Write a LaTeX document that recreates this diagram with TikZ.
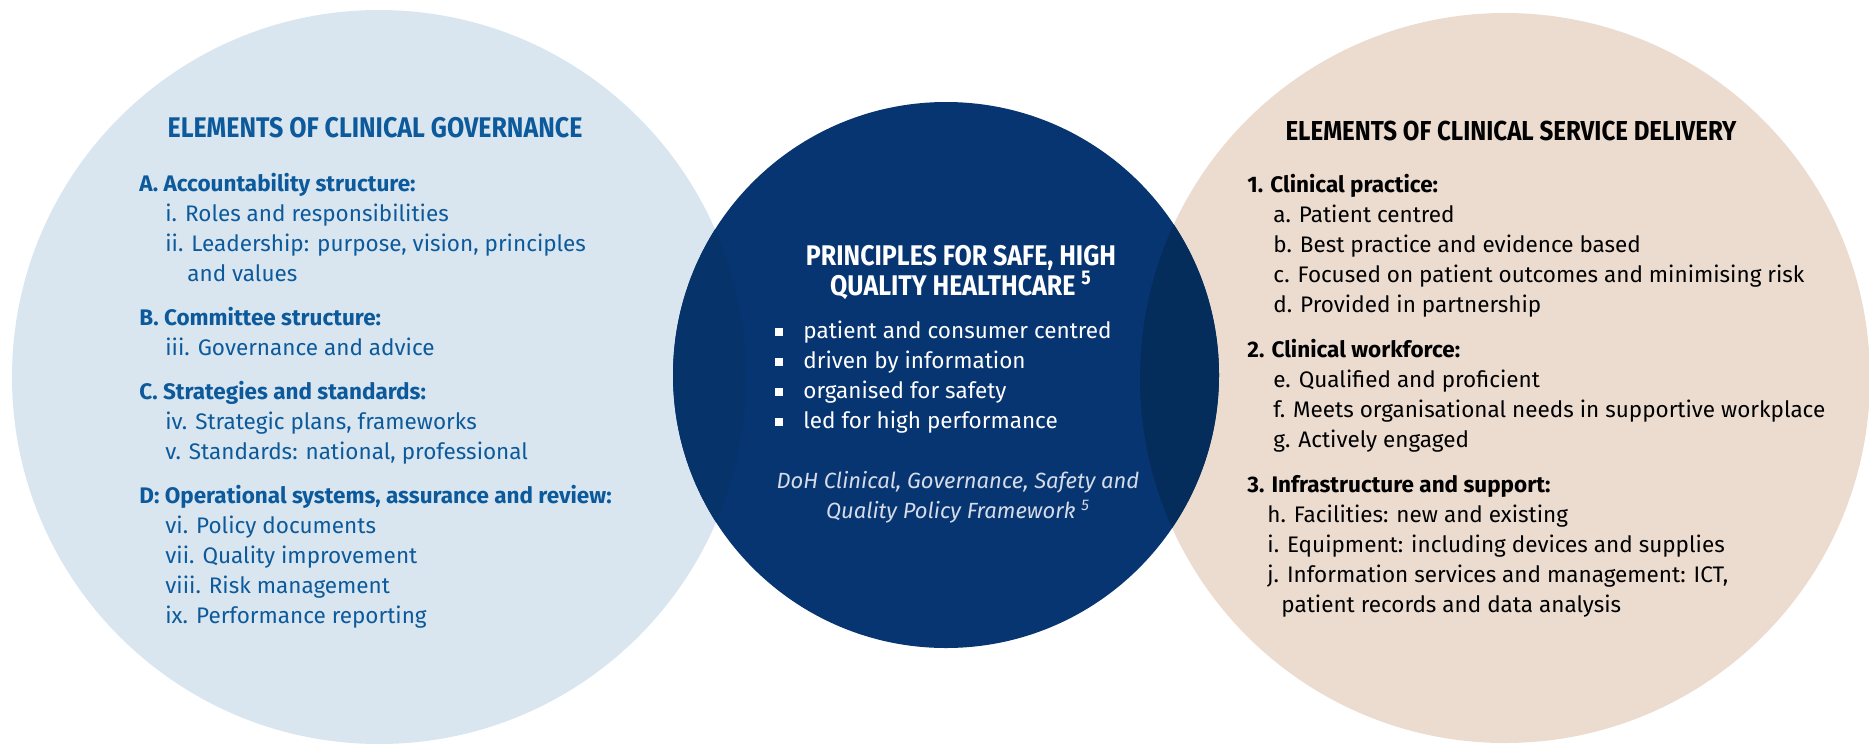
\documentclass[tikz,border=0pt]{standalone}
\usepackage{fontspec}
\setmainfont{Fira Sans}
\newfontfamily\headfont{Fira Sans}[FakeStretch=0.88]
\usepackage{tikz}
\usetikzlibrary{positioning}

\definecolor{govfill}{HTML}{D9E6F0}
\definecolor{servfill}{HTML}{ECDCD0}
\definecolor{princfill}{HTML}{073572}
\definecolor{govdeep}{HTML}{06336A}
\definecolor{servdeep}{HTML}{052D5C}
\definecolor{govblue}{HTML}{0C5A9B}
\definecolor{citegrey}{HTML}{D5DCE8}

\newcommand{\sub}[1][13pt]{\hspace*{#1}}
\newcommand{\sqbul}{\llap{\rule[1pt]{4pt}{4pt}\hspace{10pt}}}

\begin{document}
\begin{tikzpicture}[
    x=0.5pt, y=-0.5pt,
    title/.style={font=\headfont\bfseries\fontsize{14.2}{15}\selectfont, inner sep=0pt, anchor=base},
    list/.style={font=\fontsize{11.25}{15}\selectfont, align=left, inner sep=0pt, anchor=base west},
    cite/.style={font=\itshape\fontsize{11}{15}\selectfont, align=center, inner sep=0pt, anchor=base, text=citegrey}
]
\useasboundingbox (0,0) rectangle (1869,745);

% centres of the three circles
\coordinate (govc) at (379,377);
\coordinate (princc) at (946,375);
\coordinate (servc) at (1505,378);

\fill[govfill] (govc) circle (367);
\fill[servfill] (servc) circle (365);
\fill[princfill] (princc) circle (273);
% darker where the middle circle lies over the others
\begin{scope}
  \clip (princc) circle (273);
  \fill[govdeep] (govc) circle (367);
  \fill[servdeep] (servc) circle (365);
\end{scope}

% clinical governance (multi-line nodes sit on their last baseline)
\node[title, text=govblue] (govtitle) at (375,137) {ELEMENTS OF CLINICAL GOVERNANCE};
\node[list, text=govblue] (govlist) at (139,623) {%
  \textbf{A. Accountability structure:}\\
  \sub i. Roles and responsibilities\\
  \sub ii. Leadership: purpose, vision, principles\\
  \sub[24pt]and values\\[7pt]
  \textbf{B. Committee structure:}\\
  \sub iii. Governance and advice\\[7pt]
  \textbf{C. Strategies and standards:}\\
  \sub iv. Strategic plans, frameworks\\
  \sub v. Standards: national, professional\\[7pt]
  \textbf{D: Operational systems, assurance and review:}\\
  \sub vi. Policy documents\\
  \sub vii. Quality improvement\\
  \sub viii. Risk management\\
  \sub ix. Performance reporting};

% principles
\node[title, text=white, align=center] (princtitle) at (961,295) {PRINCIPLES FOR SAFE, HIGH\\QUALITY HEALTHCARE \textsuperscript{5}};
\node[list, text=white] (princlist) at (803,428) {%
  \sqbul patient and consumer centred\\
  \sqbul driven by information\\
  \sqbul organised for safety\\
  \sqbul led for high performance};
\node[cite] (source) at (958,518) {DoH Clinical, Governance, Safety and\\Quality Policy Framework \textsuperscript{5}};

% clinical service delivery
\node[title, text=black, font=\headfont\bfseries\fontsize{13.7}{15}\selectfont] (servtitle) at (1511,140) {ELEMENTS OF CLINICAL SERVICE DELIVERY};
\node[list, text=black] (servlist) at (1247,612) {%
  \textbf{1. Clinical practice:}\\
  \sub a. Patient centred\\
  \sub b. Best practice and evidence based\\
  \sub c. Focused on patient outcomes and minimising risk\\
  \sub d. Provided in partnership\\[7.5pt]
  \textbf{2. Clinical workforce:}\\
  \sub e. Qualified and proficient\\
  \sub f. Meets organisational needs in supportive workplace\\
  \sub g. Actively engaged\\[7.5pt]
  \textbf{3. Infrastructure and support:}\\
  \sub[10pt]h. Facilities: new and existing\\
  \sub[10pt]i. Equipment: including devices and supplies\\
  \sub[10pt]j. Information services and management: ICT,\\
  \sub[17pt]patient records and data analysis};

\end{tikzpicture}
\end{document}
